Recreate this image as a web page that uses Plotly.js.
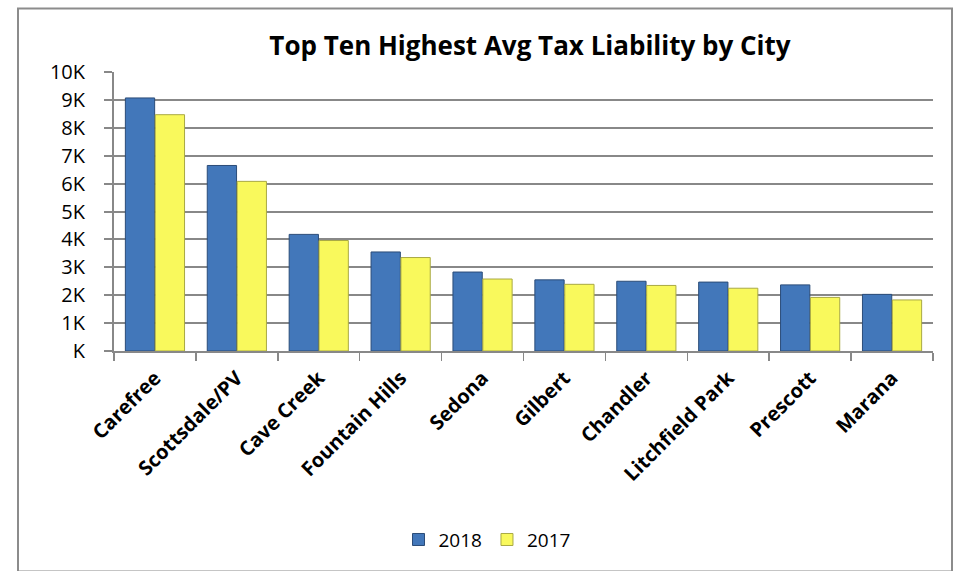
<!DOCTYPE html>
<html>
<head>
<meta charset="utf-8">
<script src="https://cdn.plot.ly/plotly-3.0.1.min.js"></script>
<style>html,body{margin:0;padding:0;background:#fff;}#chart{width:959px;height:571px;}</style>
</head>
<body>
<div id="chart"></div>
<script>
const cities = ["Carefree","Scottsdale/PV","Cave Creek","Fountain Hills","Sedona","Gilbert","Chandler","Litchfield Park","Prescott","Marana"];
const values2018 = [9070, 6650, 4180, 3550, 2830, 2550, 2500, 2470, 2370, 2030];
const values2017 = [8470, 6080, 3960, 3350, 2580, 2390, 2350, 2250, 1920, 1830];
const yTickVals = [0,1000,2000,3000,4000,5000,6000,7000,8000,9000,10000];
const yTickText = ["K","1K","2K","3K","4K","5K","6K","7K","8K","9K","10K"];
const seriesNames = ["2018","2017"];
const chartTitle = "Top Ten Highest Avg Tax Liability by City";

const FONT = "'Open Sans', 'Noto Sans', sans-serif";

const traces = [
  {type:"bar", name:seriesNames[0], x:cities, y:values2018,
   marker:{color:"#4277BA", line:{color:"#2B4C78", width:1}}},
  {type:"bar", name:seriesNames[1], x:cities, y:values2017,
   marker:{color:"#F9F95C", line:{color:"#A9A944", width:1}}}
];

const L=114, R=933, T=72, B=353, W=959, H=571;
const px = v => (v-L)/(R-L);
const py = v => (B-v)/(B-T);

const layout = {
  width:W, height:H,
  margin:{l:L, r:W-R, t:T, b:H-B, pad:0},
  paper_bgcolor:"#fff", plot_bgcolor:"#fff",
  font:{family:FONT, color:"#000", size:18},
  title:{text:"<b>"+chartTitle+"</b>", font:{family:FONT, size:26, color:"#000"},
         x:530/W, xanchor:"center", y:1-46/H, yanchor:"middle"},
  barmode:"group", bargap:0.27, bargroupgap:0.02,
  showlegend:true,
  legend:{orientation:"h", x:px(487), xanchor:"center", y:py(543), yanchor:"middle",
          font:{family:FONT, size:19, color:"#000"}, itemwidth:30, traceorder:"normal"},
  xaxis:{type:"category", tickson:"boundaries", ticks:"outside", ticklen:8, tickcolor:"#888",
         tickwidth:1.5, showgrid:false, showline:true, linecolor:"#888", linewidth:1.5,
         tickangle:-45, ticklabelstandoff:6,
         tickfont:{family:FONT, size:20, color:"#000", weight:"bold"},
         zeroline:false},
  yaxis:{range:[0,10000], tickvals:yTickVals, ticktext:yTickText, ticks:"outside", ticklen:8,
         tickcolor:"#888", tickwidth:2, showgrid:true, gridcolor:"#888", gridwidth:2,
         showline:true, linecolor:"#888", linewidth:2, zeroline:false, fixedrange:true,
         ticklabelstandoff:15,
         tickfont:{family:FONT, size:20, color:"#000"}},
  shapes:[{type:"rect", xref:"paper", yref:"paper", x0:px(18), x1:px(952), y0:py(575), y1:py(8),
           line:{color:"#8c8c8c", width:2}, fillcolor:"rgba(0,0,0,0)", layer:"below"}]
};

Plotly.newPlot("chart", traces, layout, {displayModeBar:false, staticPlot:true});
</script>
</body>
</html>
